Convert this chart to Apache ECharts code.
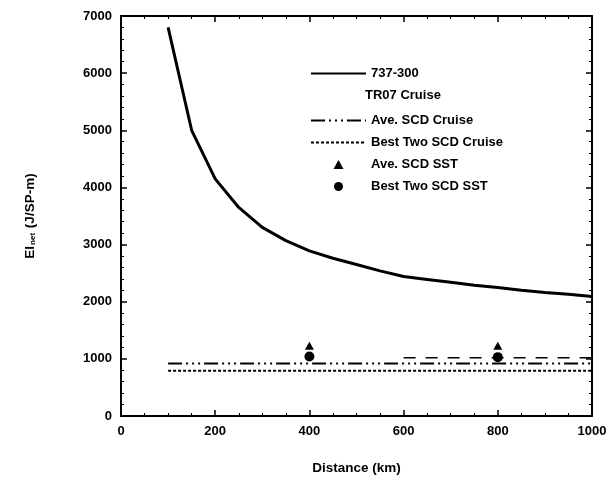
<!DOCTYPE html>
<html>
<head>
<meta charset="utf-8">
<script src="https://cdn.jsdelivr.net/npm/echarts@6/dist/echarts.min.js"></script>
<style>
  html, body { margin: 0; padding: 0; background: #fff; }
  #chart { width: 611px; height: 488px; }
</style>
</head>
<body>
<div id="chart"></div>
<script>
// 737-300 TR07 cruise curve
const distances = [100, 150, 200, 250, 300, 350, 400, 450, 500, 550, 600, 650, 700, 750, 800, 850, 900, 950, 1000];
const eiBoeing = [6800, 5000, 4150, 3650, 3300, 3070, 2890, 2760, 2650, 2540, 2440, 2390, 2340, 2290, 2250, 2200, 2160, 2130, 2090];

// flat SCD cruise lines
const cruiseX = [100, 1000];
const eiAveCruise = [920, 920];
const eiBestCruise = [790, 790];

// long dashed line on the right
const dashX = [600, 1000];
const dashVals = [1020, 1020];

// SST points
const sstX = [400, 800];
const eiAveSst = [1230, 1230];
const eiBestSst = [1040, 1030];

const xTicks = [0, 200, 400, 600, 800, 1000];
const yTicks = [0, 1000, 2000, 3000, 4000, 5000, 6000, 7000];

const font = "'Liberation Sans', Arial, sans-serif";
const chart = echarts.init(document.getElementById("chart"));

const zip = (xs, ys) => xs.map((x, i) => [x, ys[i]]);
const txt = { fontFamily: font, fontSize: 13, fontWeight: "bold", color: "#000" };

const axisCommon = {
  axisLine: { show: true, onZero: false, lineStyle: { color: "#000", width: 2 } },
  axisTick: { show: true, inside: true, length: 6, lineStyle: { color: "#000", width: 1.5 } },
  minorTick: { show: true, length: 3, lineStyle: { color: "#000", width: 1 } },
  splitLine: { show: false },
};

chart.setOption({
  animation: false,
  textStyle: { fontFamily: font },
  grid: { left: 121, right: 19, top: 16, bottom: 72 },
  legend: [
    {
      orient: "vertical",
      left: 305,
      top: 62,
      itemWidth: 55,
      itemHeight: 9,
      data: [{ name: "737-300", itemStyle: { opacity: 0 } }],
      textStyle: txt,
    },
    {
      orient: "vertical",
      left: 305,
      top: 109,
      itemWidth: 55,
      itemHeight: 9,
      itemGap: 9,
      data: [
        { name: "Ave. SCD Cruise", itemStyle: { opacity: 0 } },
        { name: "Best Two SCD Cruise", itemStyle: { opacity: 0 } },
        "Ave. SCD SST",
        "Best Two SCD SST",
      ],
      textStyle: txt,
    },
  ],
  graphic: [
    {
      type: "text",
      left: 365,
      top: 89,
      style: { text: "TR07 Cruise", font: "bold 13px " + font, fill: "#000" },
    },
  ],
  xAxis: [
    {
      type: "value",
      min: 0,
      max: 1000,
      interval: 200,
      ...axisCommon,
      minorTick: { ...axisCommon.minorTick, splitNumber: 4 },
      axisLabel: { ...txt, margin: 9, customValues: xTicks, formatter: (v) => String(v) },
      name: "Distance (km)",
      nameLocation: "middle",
      nameGap: 45,
      nameTextStyle: { ...txt, fontSize: 13.5 },
    },
    {
      type: "value",
      position: "top",
      min: 0,
      max: 1000,
      interval: 200,
      ...axisCommon,
      minorTick: { ...axisCommon.minorTick, splitNumber: 4 },
      axisLabel: { show: false },
    },
  ],
  yAxis: [
    {
      type: "value",
      min: 0,
      max: 7000,
      interval: 1000,
      ...axisCommon,
      minorTick: { ...axisCommon.minorTick, splitNumber: 5 },
      axisLabel: { ...txt, margin: 9, customValues: yTicks, formatter: (v) => String(v) },
      name: "EI{sub|net} (J/SP-m)",
      nameLocation: "middle",
      nameGap: 84,
      nameRotate: 90,
      nameTextStyle: {
        ...txt,
        fontSize: 13.5,
        rich: {
          sub: { fontSize: 8, fontWeight: "bold", verticalAlign: "bottom", padding: [6, 1, 0, 1], fontFamily: font },
        },
      },
    },
    {
      type: "value",
      position: "right",
      min: 0,
      max: 7000,
      interval: 1000,
      ...axisCommon,
      minorTick: { ...axisCommon.minorTick, splitNumber: 5 },
      axisLabel: { show: false },
    },
  ],
  series: [
    {
      name: "737-300",
      type: "line",
      data: zip(distances, eiBoeing),
      symbol: "none",
      lineStyle: { color: "#000", width: 3 },
      itemStyle: { color: "#000" },
    },
    {
      name: "Ave. SCD Cruise",
      type: "line",
      data: zip(cruiseX, eiAveCruise),
      symbol: "none",
      lineStyle: { color: "#000", width: 2, type: [14, 4, 2, 4, 2, 4, 2, 4] },
      itemStyle: { color: "#000" },
    },
    {
      name: "Best Two SCD Cruise",
      type: "line",
      data: zip(cruiseX, eiBestCruise),
      symbol: "none",
      lineStyle: { color: "#000", width: 2, type: [3, 2] },
      itemStyle: { color: "#000" },
    },
    {
      name: "long dash",
      type: "line",
      data: zip(dashX, dashVals),
      symbol: "none",
      lineStyle: { color: "#000", width: 1.5, type: [12, 10] },
      itemStyle: { color: "#000" },
    },
    {
      name: "Ave. SCD SST",
      type: "scatter",
      data: zip(sstX, eiAveSst),
      symbol: "path://M5,0L10,9L0,9Z",
      symbolKeepAspect: true,
      symbolSize: 9,
      itemStyle: { color: "#000", opacity: 1 },
    },
    {
      name: "Best Two SCD SST",
      type: "scatter",
      data: zip(sstX, eiBestSst),
      symbol: "circle",
      symbolSize: 10,
      itemStyle: { color: "#000", opacity: 1 },
    },
  ],
});
</script>
</body>
</html>
